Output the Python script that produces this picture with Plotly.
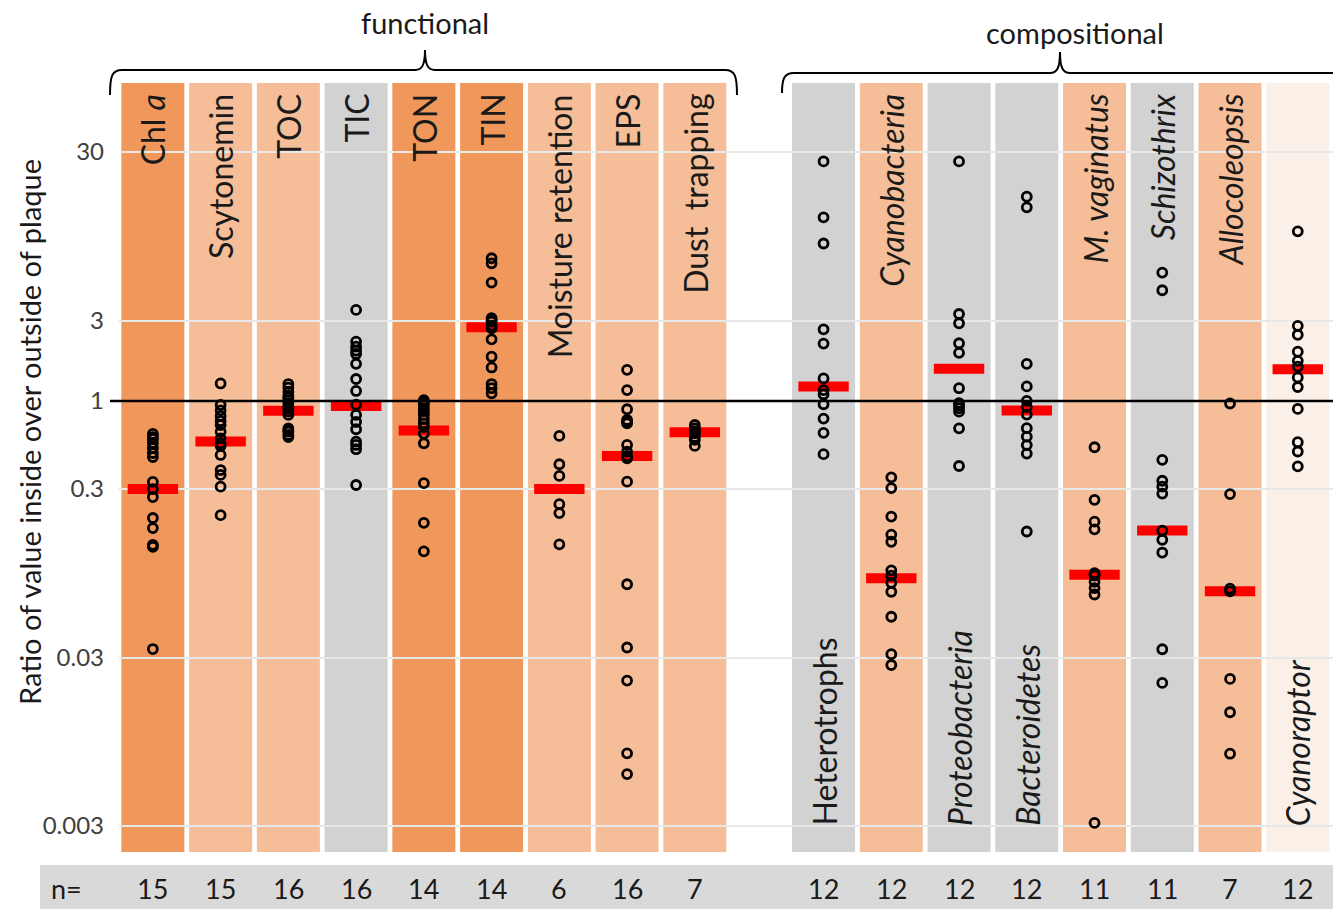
import plotly.graph_objects as go

# ---------------- data ----------------
categories = ["Chl <i>a</i>", "Scytonemin", "TOC", "TIC", "TON", "TIN",
              "Moisture retention", "EPS", "Dust  trapping",
              "Heterotrophs", "<i>Cyanobacteria</i>", "<i>Proteobacteria</i>",
              "<i>Bacteroidetes</i>", "<i>M. vaginatus</i>", "<i>Schizothrix</i>",
              "<i>Allocoleopsis</i>", "<i>Cyanoraptor</i>"]
slots = [0, 1, 2, 3, 4, 5, 6, 7, 8, 9.9, 10.9, 11.9, 12.9, 13.9, 14.9, 15.9, 16.9]
label_side = ["top"] * 9 + ["bottom", "top", "bottom", "bottom", "top", "top", "top", "bottom"]
kind = ["dark", "light", "light", "grey", "dark", "dark", "light", "light", "light",
        "grey", "light", "grey", "grey", "light", "grey", "light", "pale"]
n_counts = [15, 15, 16, 16, 14, 14, 6, 16, 7, 12, 12, 12, 12, 11, 11, 7, 12]

chl_a = [0.637, 0.61, 0.595, 0.563, 0.526, 0.491, 0.465, 0.331, 0.30, 0.269, 0.202, 0.176, 0.140, 0.136, 0.0337]
scytonemin = [1.27, 0.946, 0.88, 0.815, 0.76, 0.72, 0.657, 0.60, 0.561, 0.54, 0.478, 0.389, 0.364, 0.31, 0.21]
toc = [1.26, 1.20, 1.135, 1.07, 1.05, 1.01, 0.97, 0.925, 0.90, 0.864, 0.826, 0.688, 0.67, 0.657, 0.628, 0.611]
tic = [3.47, 2.25, 2.10, 1.99, 1.90, 1.66, 1.35, 1.146, 0.95, 0.826, 0.75, 0.679, 0.574, 0.548, 0.517, 0.317]
ton = [1.01, 0.98, 0.947, 0.905, 0.87, 0.826, 0.78, 0.737, 0.70, 0.64, 0.561, 0.325, 0.189, 0.128]
tin = [7.03, 6.56, 5.04, 3.10, 3.0, 2.96, 2.8, 2.7, 2.32, 1.83, 1.58, 1.26, 1.19, 1.11]
moisture = [0.62, 0.421, 0.359, 0.244, 0.216, 0.141]
eps = [1.53, 1.16, 0.893, 0.771, 0.75, 0.737, 0.548, 0.50, 0.47, 0.457, 0.332, 0.0817, 0.0344, 0.0219, 0.0081, 0.0061]
dust = [0.72, 0.688, 0.66, 0.643, 0.61, 0.587, 0.541]
heterotrophs = [26.4, 12.3, 8.6, 2.66, 2.19, 1.36, 1.16, 1.096, 0.956, 0.786, 0.647, 0.483]
cyanobacteria = [0.352, 0.304, 0.206, 0.161, 0.146, 0.0988, 0.092, 0.0833, 0.0737, 0.0524, 0.0314, 0.0271]
proteobacteria = [26.4, 3.28, 2.89, 2.20, 1.93, 1.19, 0.97, 0.94, 0.905, 0.864, 0.688, 0.411]
bacteroidetes = [16.3, 14.1, 1.66, 1.22, 1.0, 0.92, 0.83, 0.689, 0.614, 0.547, 0.487, 0.168]
m_vaginatus = [0.531, 0.259, 0.192, 0.173, 0.095, 0.093, 0.092, 0.0843, 0.0775, 0.071, 0.00313]
schizothrix = [5.78, 4.54, 0.447, 0.336, 0.31, 0.282, 0.17, 0.150, 0.126, 0.0336, 0.0212]
allocoleopsis = [0.966, 0.28, 0.077, 0.0741, 0.0224, 0.0142, 0.00806]
cyanoraptor = [10.15, 2.79, 2.47, 1.96, 1.73, 1.6, 1.38, 1.21, 0.897, 0.569, 0.501, 0.409]

series = [chl_a, scytonemin, toc, tic, ton, tin, moisture, eps, dust,
          heterotrophs, cyanobacteria, proteobacteria, bacteroidetes,
          m_vaginatus, schizothrix, allocoleopsis, cyanoraptor]

medians = [0.30, 0.574, 0.876, 0.934, 0.667, 2.74, 0.30, 0.472, 0.652,
           1.22, 0.0888, 1.555, 0.877, 0.093, 0.170, 0.0741, 1.54]

tick_vals = [0.003, 0.03, 0.3, 1, 3, 30]
tick_text = ["0.003", "0.03", "0.3", "1", "3", "30"]

# ---------------- styles ----------------
W, H = 1333, 909
L, R, T, B = 119, 0, 83, 57
PW, PH = W - L - R, H - T - B
FONT = "Lato"
TXT = "#1a1a1a"
fill = {"dark": "#F0975B", "light": "#F5BE98", "grey": "#D2D2D2", "pale": "#FAF0E8"}


def pxx(x):
    return (x - L) / PW


def pxy(y):
    return (H - B - y) / PH


fig = go.Figure()

shapes = []
for s, k in zip(slots, kind):
    shapes.append(dict(type="rect", xref="x", yref="paper", x0=s - 0.465, x1=s + 0.465,
                       y0=0, y1=1, fillcolor=fill[k], line=dict(width=0), layer="below"))

# reference line at ratio 1
shapes.append(dict(type="line", xref="paper", yref="y", x0=pxx(110), x1=1, y0=1, y1=1,
                   line=dict(color="black", width=2.5), layer="above"))

# n= band
shapes.append(dict(type="rect", xref="paper", yref="paper", x0=pxx(40), x1=1,
                   y0=pxy(912), y1=pxy(865), fillcolor="#D9D9D9", line=dict(width=0)))


def brace(x0, x1, xt, yh, ytip, yend, extend_right=False):
    P = lambda x, y: f"{pxx(x):.5f},{pxy(y):.5f}"
    d = f"M{P(x0, yend)} C{P(x0, yh + 6)} {P(x0 + 2, yh)} {P(x0 + 12, yh)} "
    d += f"L{P(xt - 10, yh)} C{P(xt - 3, yh)} {P(xt, yh - 5)} {P(xt, ytip)} "
    d += f"C{P(xt, yh - 5)} {P(xt + 3, yh)} {P(xt + 10, yh)} "
    if extend_right:
        d += f"L{P(x1, yh)}"
    else:
        d += f"L{P(x1 - 12, yh)} C{P(x1 - 2, yh)} {P(x1, yh + 6)} {P(x1, yend)}"
    return d


shapes.append(dict(type="path", xref="paper", yref="paper",
                   path=brace(110, 737, 425, 70, 50, 95), line=dict(color="black", width=2)))
shapes.append(dict(type="path", xref="paper", yref="paper",
                   path=brace(782, 1345, 1060, 73, 52, 93, extend_right=True),
                   line=dict(color="black", width=2)))

# medians (red bars)
fig.add_trace(go.Scatter(x=slots, y=medians, mode="markers", hoverinfo="skip",
                         marker=dict(symbol="line-ew", size=36,
                                     line=dict(color="#FF0000", width=10)),
                         showlegend=False))

# points
px_list, py_list = [], []
for s, vals in zip(slots, series):
    px_list += [s] * len(vals)
    py_list += vals
fig.add_trace(go.Scatter(x=px_list, y=py_list, mode="markers",
                         marker=dict(symbol="circle-open", size=9, color="black",
                                     line=dict(color="black", width=2.8)),
                         showlegend=False))

annotations = []
for s, name, side in zip(slots, categories, label_side):
    if side == "top":
        annotations.append(dict(x=s, xref="x", y=pxy(92), yref="paper", text=name,
                                textangle=-90, showarrow=False, xanchor="center", yanchor="top",
                                font=dict(family=FONT, size=32, color=TXT)))
    else:
        annotations.append(dict(x=s, xref="x", y=pxy(828), yref="paper", text=name,
                                textangle=-90, showarrow=False, xanchor="center", yanchor="bottom",
                                font=dict(family=FONT, size=32, color=TXT)))

for s, n in zip(slots, n_counts):
    annotations.append(dict(x=s, xref="x", y=pxy(888), yref="paper", text=str(n),
                            showarrow=False, xanchor="center", yanchor="middle",
                            font=dict(family=FONT, size=27, color=TXT)))
annotations.append(dict(x=pxx(66), xref="paper", y=pxy(888), yref="paper", text="n=",
                        showarrow=False, xanchor="center", yanchor="middle",
                        font=dict(family=FONT, size=27, color=TXT)))

annotations.append(dict(x=pxx(425), xref="paper", y=pxy(23), yref="paper", text="functional",
                        showarrow=False, xanchor="center", yanchor="middle",
                        font=dict(family=FONT, size=29, color=TXT)))
annotations.append(dict(x=pxx(1075), xref="paper", y=pxy(33), yref="paper", text="compositional",
                        showarrow=False, xanchor="center", yanchor="middle",
                        font=dict(family=FONT, size=29, color=TXT)))
annotations.append(dict(x=pxx(30), xref="paper", y=pxy(432), yref="paper",
                        text="Ratio of value inside over outside of plaque", textangle=-90,
                        showarrow=False, xanchor="center", yanchor="middle",
                        font=dict(family=FONT, size=29, color=TXT)))

fig.update_layout(
    width=W, height=H, margin=dict(l=L, r=R, t=T, b=B),
    paper_bgcolor="white", plot_bgcolor="white",
    shapes=shapes, annotations=annotations, showlegend=False,
    xaxis=dict(range=[-0.5, 17.42], showgrid=False, zeroline=False, showticklabels=False,
               showline=False, ticks=""),
    yaxis=dict(type="log", range=[-2.677, 1.887], tickvals=tick_vals, ticktext=tick_text,
               showgrid=True, gridcolor="#E8E8E8", gridwidth=1.5, zeroline=False,
               showline=False, ticks="", ticklabelstandoff=14,
               tickfont=dict(family=FONT, size=24, color="#404040")),
)

fig.write_html("out.html", config={"displayModeBar": False},
               post_script="document.body.style.margin='0';")
